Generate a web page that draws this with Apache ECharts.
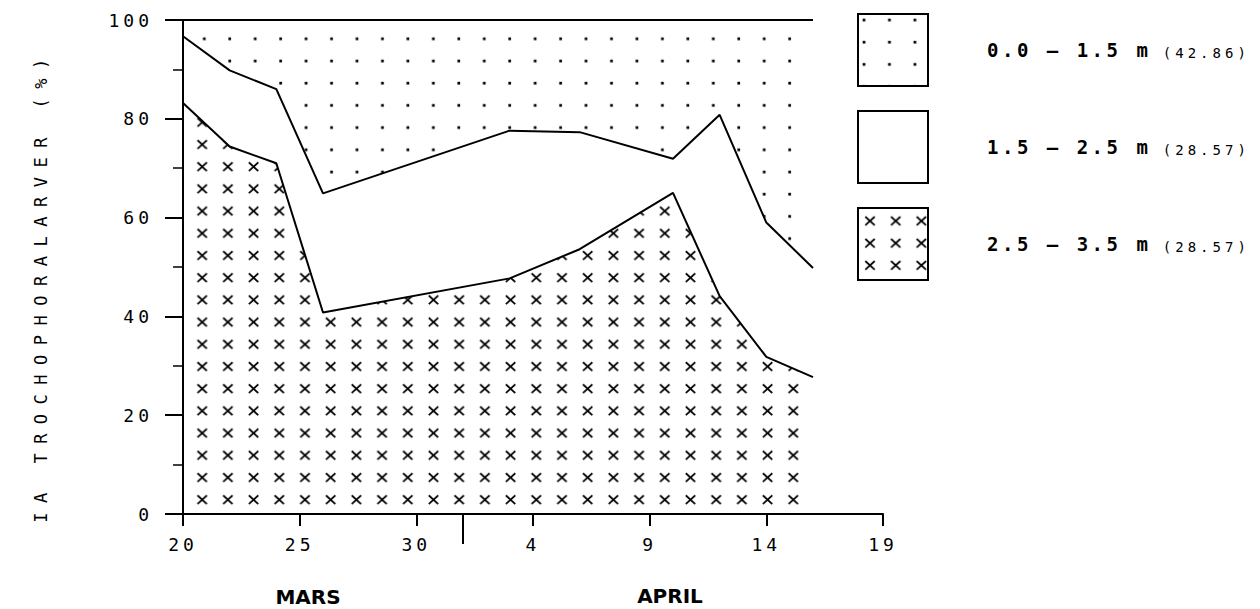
<!DOCTYPE html>
<html>
<head>
<meta charset="utf-8">
<title>Trochophoralarver</title>
<script src="https://cdn.jsdelivr.net/npm/echarts@6/dist/echarts.min.js"></script>
<style>
	html, body { margin: 0; padding: 0; background: #fff; }
	#chart { width: 1260px; height: 609px; }
	/* plotter lettering is widely spaced, tag the svg texts by font name */
	#chart text[style*="ynm"] { letter-spacing: 9.5px; }
	#chart text[style*="tkl"] { letter-spacing: 4px; }
	#chart text[style*="lgb"] { letter-spacing: 3.5px; }
	#chart text[style*="lgs"] { letter-spacing: 4px; }
</style>
</head>
<body>
<div id="chart"></div>
<script>
// days after 20 March
const days = [0, 2, 4, 6, 14, 17, 21, 23, 25, 27]
const tickLabels = ['20', '25', '30', '4', '9', '14', '19']
const monthStart = [12] // 1 April
const months = ['MARS', 'APRIL']

// share of larvae in each depth layer (%)
const deep = [83.2, 74.4, 71.0, 40.8, 47.7, 53.6, 65.0, 44.1, 31.8, 27.7]
const mid = [13.5, 15.4, 15.0, 24.1, 29.9, 23.7, 6.9, 36.7, 27.2, 22.1]
const shallow = [3.3, 10.2, 14.0, 35.1, 22.4, 22.7, 28.1, 19.2, 41.0, 50.2]

const layerNames = ['0.0 – 1.5 m', '1.5 – 2.5 m', '2.5 – 3.5 m']
const layerShares = ['42.86', '28.57', '28.57']

const TILE_H = 22.2

// svg renderer drops the pattern offset, so the mark is placed inside the tile
// (drawn at the neighbouring offsets too so it wraps over the tile edge)
const tile = (mark, w, cx, cy, bg) => {
	let body = bg ? `<rect width="${w}" height="${TILE_H}" fill="${bg}"/>` : ''
	for (let i = -1; i <= 1; i++) {
		for (let j = -1; j <= 1; j++) {
			body += mark(cx + i * w, cy + j * TILE_H)
		}
	}
	const svg = `<svg xmlns="http://www.w3.org/2000/svg" width="${w}" height="${TILE_H}">${body}</svg>`
	return {
		image: 'data:image/svg+xml;charset=utf-8,' + encodeURIComponent(svg),
		repeat: 'repeat',
		imageWidth: w,
		imageHeight: TILE_H
	}
}

const cross = (x, y) => `<path d="M${x - 4.7} ${y - 4.3}L${x + 4.7} ${y + 4.3}M${x + 4.7} ${y - 4.3}L${x - 4.7} ${y + 4.3}" stroke="#000" stroke-width="1.8" fill="none"/>`
const dot = (x, y) => `<rect x="${x - 1.35}" y="${y - 1.35}" width="2.7" height="2.7" fill="#000"/>`

// cumulative curves, painted from the top layer down so each one covers the last
const upperEdge = deep.map((v, i) => +(v + mid[i] + shallow[i]).toFixed(1))
const middleEdge = deep.map((v, i) => +(v + mid[i]).toFixed(1))

const layers = [
	{ name: layerNames[0], values: upperEdge, fill: tile(dot, 25.45, 0.7, 16.6) },
	{ name: layerNames[1], values: middleEdge, fill: '#fff' },
	{ name: layerNames[2], values: deep, fill: tile(cross, 25.7, 22.3, 11.3, '#fff') }
]

const legendFills = [tile(dot, 25.45, 6, 6), '#fff', tile(cross, 25.7, 12, 13, '#fff')]

const tickFont = "'DejaVu Sans Mono', tkl"
const axisColor = { color: '#000', width: 2 }

const chart = echarts.init(document.getElementById('chart'), null, { renderer: 'svg' })

chart.setOption({
	animation: false,
	backgroundColor: '#fff',
	textStyle: { fontFamily: 'DejaVu Sans Mono', color: '#000' },
	grid: {
		left: 183,
		right: 377,
		top: 20,
		bottom: 95,
		show: false,
		outerBoundsMode: 'none'
	},
	legend: {
		orient: 'vertical',
		left: 852,
		top: 8,
		itemWidth: 70,
		itemHeight: 72,
		itemGap: 23,
		icon: 'rect',
		selectedMode: false,
		itemStyle: { borderColor: '#000', borderWidth: 2 },
		data: layerNames.map((name, i) => ({ name, itemStyle: { color: legendFills[i] } })),
		formatter: name => `{b|${name}}{s|(${layerShares[layerNames.indexOf(name)]})}`,
		textStyle: {
			padding: [0, 0, 0, 54],
			rich: {
				b: {
					fontFamily: "'DejaVu Sans Mono', lgb",
					fontWeight: 'bold',
					fontSize: 19,
					color: '#000',
					padding: [0, 50, 0, 0],
					verticalAlign: 'bottom'
				},
				s: {
					fontFamily: "'DejaVu Sans Mono', lgs",
					fontSize: 14,
					color: '#000',
					verticalAlign: 'bottom'
				}
			}
		}
	},
	xAxis: [
		{
			type: 'value',
			min: 0,
			max: 30,
			interval: 5,
			position: 'bottom',
			z: 5,
			axisLine: { onZero: false, lineStyle: axisColor },
			axisTick: { show: true, length: 12, lineStyle: axisColor },
			axisLabel: {
				margin: 21,
				formatter: v => tickLabels[Math.round(v / 5)],
				fontFamily: tickFont,
				fontSize: 18,
				color: '#000'
			},
			splitLine: { show: false }
		},
		{
			// long tick at the month change
			type: 'value',
			min: 0,
			max: 30,
			position: 'bottom',
			z: 5,
			axisLine: { show: false },
			axisTick: {
				show: true,
				customValues: monthStart,
				length: 30,
				lineStyle: axisColor
			},
			axisLabel: { show: false },
			splitLine: { show: false }
		}
	],
	yAxis: {
		type: 'value',
		min: 0,
		max: 100,
		interval: 20,
		z: 5,
		name: 'IA TROCHOPHORALARVER (%)',
		nameLocation: 'middle',
		nameGap: 134,
		nameTextStyle: {
			fontFamily: "'DejaVu Sans Mono', ynm",
			fontSize: 17,
			color: '#000',
			padding: [0, 38, 0, 0]
		},
		axisLine: { show: true, onZero: false, lineStyle: axisColor },
		axisTick: { show: true, length: 18, lineStyle: axisColor },
		minorTick: { show: true, splitNumber: 2, length: 10, lineStyle: { color: '#000', width: 1.5 } },
		axisLabel: { margin: 30, fontFamily: tickFont, fontSize: 18, color: '#000' },
		splitLine: { show: false },
		minorSplitLine: { show: false }
	},
	graphic: [
		{
			type: 'text',
			x: 308,
			y: 597,
			style: { text: months[0], font: "bold 20px 'DejaVu Sans'", fill: '#000', align: 'center', verticalAlign: 'middle' }
		},
		{
			type: 'text',
			x: 670,
			y: 596,
			style: { text: months[1], font: "bold 20px 'DejaVu Sans'", fill: '#000', align: 'center', verticalAlign: 'middle' }
		}
	],
	series: layers.map(layer => ({
		name: layer.name,
		type: 'line',
		symbol: 'none',
		silent: true,
		data: days.map((d, i) => [d, layer.values[i]]),
		itemStyle: { color: '#000' },
		lineStyle: { color: '#000', width: 2 },
		areaStyle: { color: layer.fill, opacity: 1 }
	}))
})
</script>
</body>
</html>
